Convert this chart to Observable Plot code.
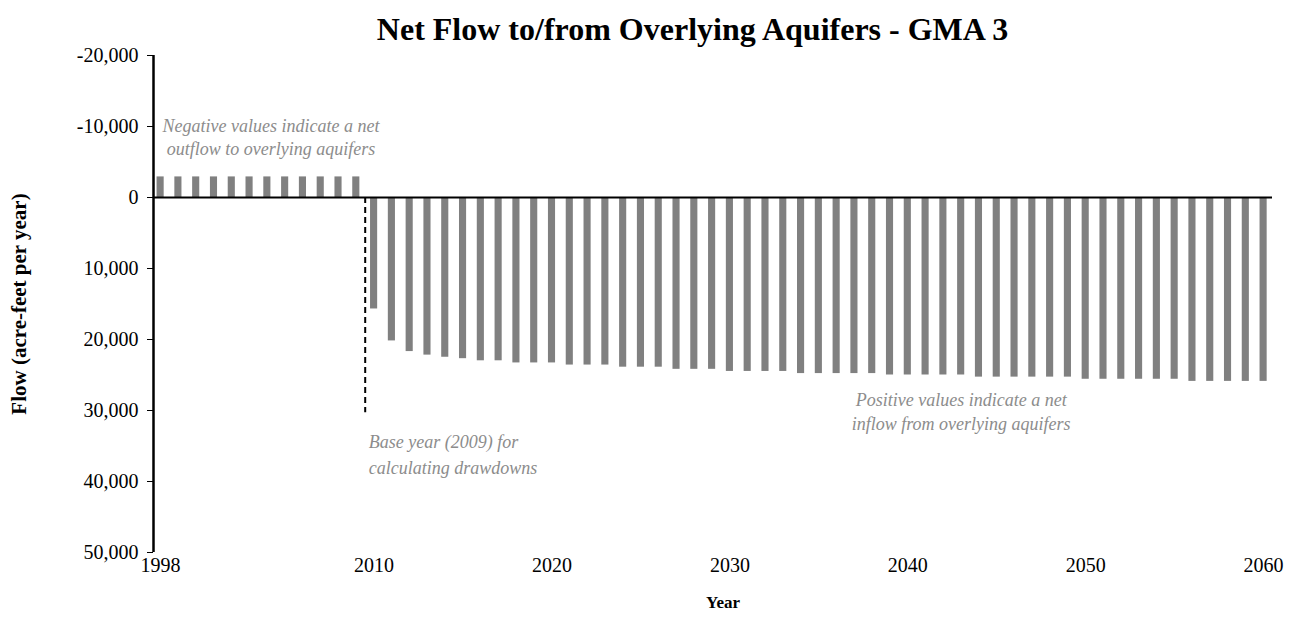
<!DOCTYPE html>
<html><head><meta charset="utf-8">
<script src="https://cdn.jsdelivr.net/npm/d3@7"></script>
<script src="https://cdn.jsdelivr.net/npm/@observablehq/plot@0.6"></script>
<style>
body{margin:0;background:#fff;font-family:"Liberation Serif","Times New Roman",serif;}
#title{height:44px;box-sizing:border-box;padding-top:12px;padding-left:90px;text-align:center;font-weight:bold;font-size:32px;line-height:34px;color:#000;white-space:nowrap;}
#chart svg{display:block;}
</style></head><body>
<div id="title">Net Flow to/from Overlying Aquifers - GMA 3</div>
<div id="chart"></div>
<script>
// Years (categories)
const years = [1998,1999,2000,2001,2002,2003,2004,2005,2006,2007,2008,2009,
  2010,2011,2012,2013,2014,2015,2016,2017,2018,2019,2020,2021,2022,2023,2024,
  2025,2026,2027,2028,2029,2030,2031,2032,2033,2034,2035,2036,2037,2038,2039,
  2040,2041,2042,2043,2044,2045,2046,2047,2048,2049,2050,2051,2052,2053,2054,
  2055,2056,2057,2058,2059,2060];
// Net flow (acre-feet per year); negative = outflow to overlying aquifers
const flows = [-2900,-2900,-2900,-2900,-2900,-2900,-2900,-2900,-2900,-2900,-2900,-2900,
  15700,20200,21700,22200,22500,22700,23000,23000,23300,23300,23300,23600,23600,23600,23900,
  23900,23900,24200,24200,24200,24500,24500,24500,24500,24800,24800,24800,24800,24800,25000,
  25000,25000,25000,25000,25300,25300,25300,25300,25300,25300,25600,25600,25600,25600,25600,
  25600,25900,25900,25900,25900,25900];
const yTicks = [-20000,-10000,0,10000,20000,30000,40000,50000];
const xTicks = [1998,2010,2020,2030,2040,2050,2060];
const baseYear = 2009;
const baseLineDepth = 30300;
const noteNeg = {x: 2004.2, y: -8700, text: "Negative values indicate a net\noutflow to overlying aquifers"};
const noteBase = {x: 2009.7, y: 35900, text: "Base year (2009) for\ncalculating drawdowns"};
const notePos = {x: 2043.0, y: 30000, text: "Positive values indicate a net\ninflow from overlying aquifers"};

const data = years.map((year, i) => ({year, value: flows[i]}));
const xMin = 1997.6, xMax = 2060.5;
const noteStyle = {x: "x", y: "y", text: "text", fill: "#8c8c8c", fontStyle: "italic", fontSize: 18};

const chart = Plot.plot({
  width: 1295,
  height: 574,
  marginLeft: 153,
  marginRight: 23,
  marginTop: 11,
  marginBottom: 66,
  style: {fontFamily: "'Liberation Serif','Times New Roman',serif", fontSize: "20px", color: "#000", background: "#fff"},
  x: {domain: [xMin, xMax]},
  y: {domain: [-20000, 50000], reverse: true},
  marks: [
    Plot.rectY(data, {x1: d => d.year - 0.2, x2: d => d.year + 0.2, y1: 0, y2: "value", fill: "#808080"}),
    Plot.ruleY([0], {stroke: "#000", strokeWidth: 2}),
    Plot.ruleX([xMin], {stroke: "#000", strokeWidth: 2.5}),
    Plot.ruleX([baseYear + 0.5], {y1: 0, y2: baseLineDepth, stroke: "#000", strokeWidth: 2, strokeDasharray: "6,4"}),
    Plot.axisY({ticks: yTicks, tickFormat: d => d.toLocaleString("en-US"), tickSize: 6, tickPadding: 9, label: null, fontSize: 20}),
    Plot.axisX({ticks: xTicks, tickFormat: d => String(d), tickSize: 0, tickPadding: 5, label: null, fontSize: 20}),
    Plot.text(["Flow (acre-feet per year)"], {frameAnchor: "left", textAnchor: "middle", rotate: -90, dx: -134, fontWeight: "bold", fontSize: 21}),
    Plot.text(["Year"], {frameAnchor: "bottom", dy: 55, dx: 10, fontWeight: "bold", fontSize: 17}),
    Plot.text([noteNeg], {...noteStyle, textAnchor: "middle", lineHeight: 1.3}),
    Plot.text([noteBase], {...noteStyle, textAnchor: "start", lineHeight: 1.45}),
    Plot.text([notePos], {...noteStyle, textAnchor: "middle", lineHeight: 1.3})
  ]
});
document.getElementById("chart").appendChild(chart);
</script>
</body></html>
